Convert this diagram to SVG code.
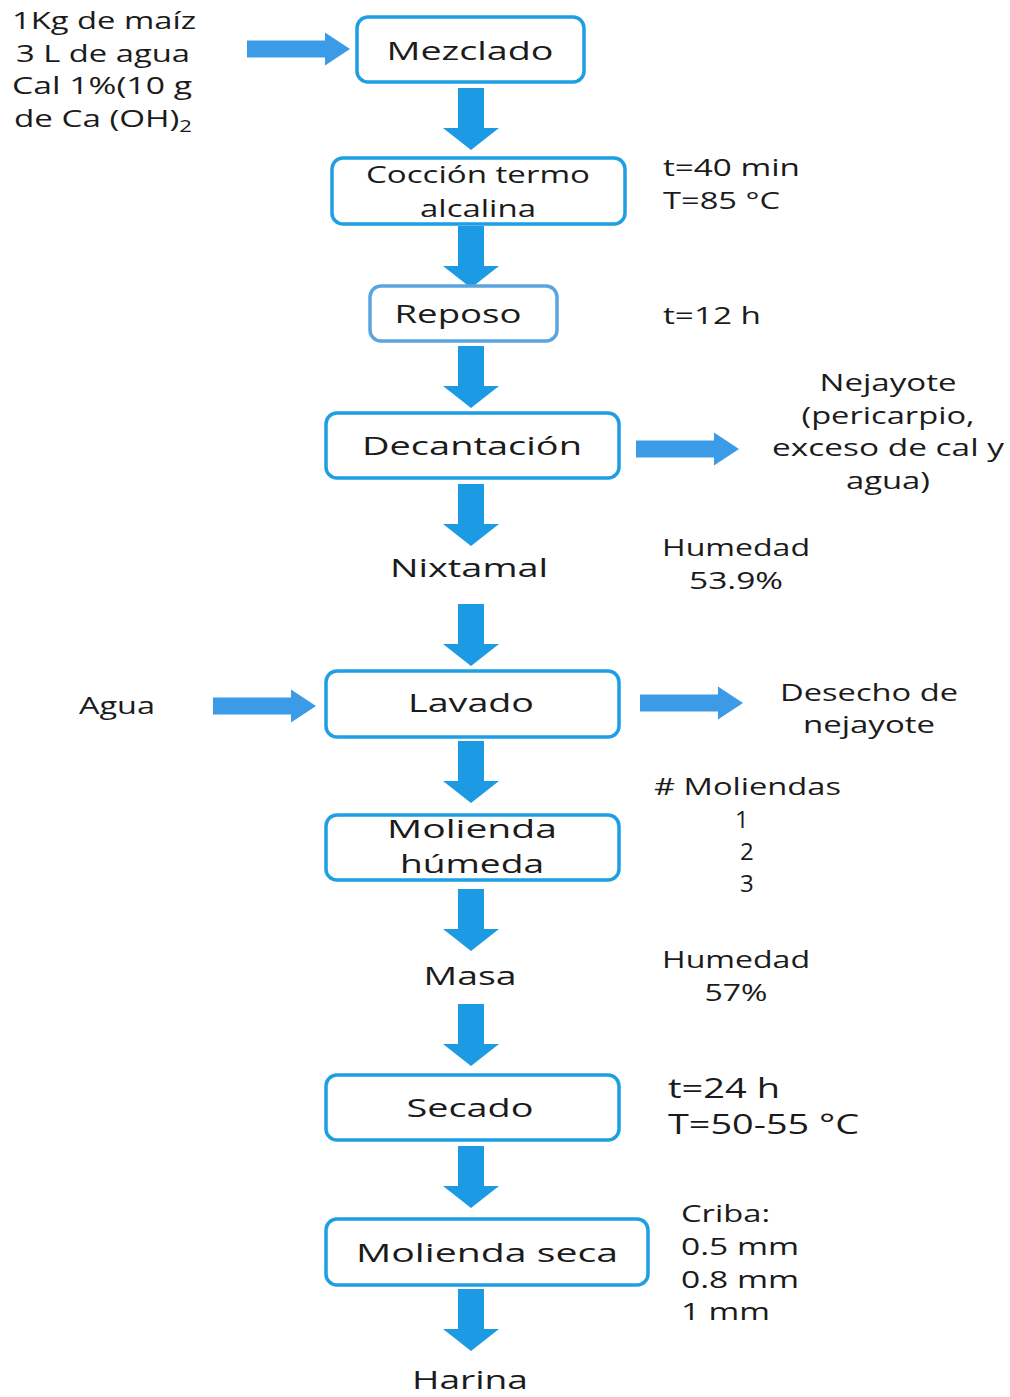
<svg xmlns="http://www.w3.org/2000/svg" width="1010" height="1397" viewBox="0 0 1010 1397">
<style>
text{font-family:"Open Sans","DejaVu Sans",sans-serif;fill:#1b1b1b;font-size:24px}
.b{font-size:26px}
.c{text-anchor:middle}
.box{fill:#fff;stroke:#1E9FE3;stroke-width:3.5}
.arr{fill:#1C9BE4}
.harr{fill:#3C9BE6}
</style>
<defs>
<path id="down" d="M-13,0 H13 V40 H28 L0,62 L-28,40 H-13 Z"/>
<path id="right" d="M0,-8.5 H78 V-16.5 L103,0 L78,16.5 V8.5 H0 Z"/>
</defs>
<rect width="1010" height="1397" fill="#fff"/>
<g id="connectors">
<use href="#down" class="arr" x="471" y="88"/>
<use href="#down" class="arr" x="471" y="226"/>
<use href="#down" class="arr" x="471" y="346"/>
<use href="#down" class="arr" x="471" y="484"/>
<use href="#down" class="arr" x="471" y="604"/>
<use href="#down" class="arr" x="471" y="741"/>
<use href="#down" class="arr" x="471" y="889"/>
<use href="#down" class="arr" x="471" y="1004"/>
<use href="#down" class="arr" x="471" y="1146"/>
<use href="#down" class="arr" x="471" y="1289"/>
<use href="#right" class="harr" x="247" y="49"/>
<use href="#right" class="harr" x="636" y="449"/>
<use href="#right" class="harr" x="213" y="706"/>
<use href="#right" class="harr" x="640" y="703"/>
</g>
<g id="inputs">
<text class="c" x="104" y="29" textLength="184" lengthAdjust="spacingAndGlyphs">1Kg de maíz</text>
<text class="c" x="103" y="62" textLength="174" lengthAdjust="spacingAndGlyphs">3 L de agua</text>
<text class="c" x="102" y="94" textLength="180" lengthAdjust="spacingAndGlyphs">Cal 1%(10 g</text>
<text x="14" y="127" textLength="178" lengthAdjust="spacingAndGlyphs">de Ca (OH)<tspan font-size="16" dy="5">2</tspan></text>
</g>
<g id="mezclado">
<rect class="box" x="357" y="17" width="227" height="65" rx="11"/>
<text class="c b" x="470" y="60" textLength="167" lengthAdjust="spacingAndGlyphs">Mezclado</text>
</g>
<g id="coccion">
<rect class="box" x="332" y="158" width="293" height="66" rx="11"/>
<text class="c" x="478" y="183" textLength="224" lengthAdjust="spacingAndGlyphs">Cocción termo</text>
<text class="c" x="478" y="217" textLength="116" lengthAdjust="spacingAndGlyphs">alcalina</text>
<text x="663" y="176" textLength="137" lengthAdjust="spacingAndGlyphs">t=40 min</text>
<text x="663" y="209" textLength="117" lengthAdjust="spacingAndGlyphs">T=85 °C</text>
</g>
<g id="reposo">
<rect class="box" x="370" y="286" width="187" height="55" rx="11" style="stroke:#5AA5E0"/>
<text class="c b" x="458" y="323" textLength="127" lengthAdjust="spacingAndGlyphs">Reposo</text>
<text x="663" y="324" textLength="98" lengthAdjust="spacingAndGlyphs">t=12 h</text>
</g>
<g id="decantacion">
<rect class="box" x="326" y="413" width="293" height="65" rx="11"/>
<text class="c b" x="472" y="455" textLength="220" lengthAdjust="spacingAndGlyphs">Decantación</text>
<text class="c" x="888" y="391" textLength="137" lengthAdjust="spacingAndGlyphs">Nejayote</text>
<text class="c" x="888" y="424" textLength="173" lengthAdjust="spacingAndGlyphs">(pericarpio,</text>
<text class="c" x="888" y="456" textLength="232" lengthAdjust="spacingAndGlyphs">exceso de cal y</text>
<text class="c" x="888" y="489" textLength="84" lengthAdjust="spacingAndGlyphs">agua)</text>
</g>
<g id="nixtamal">
<text class="c b" x="469" y="577" textLength="158" lengthAdjust="spacingAndGlyphs">Nixtamal</text>
<text class="c" x="736" y="556" textLength="148" lengthAdjust="spacingAndGlyphs">Humedad</text>
<text class="c" x="736" y="589" textLength="94" lengthAdjust="spacingAndGlyphs">53.9%</text>
</g>
<g id="lavado">
<rect class="box" x="326" y="671" width="293" height="66" rx="11"/>
<text class="c b" x="471" y="712" textLength="126" lengthAdjust="spacingAndGlyphs">Lavado</text>
<text class="c" x="117" y="714" textLength="76" lengthAdjust="spacingAndGlyphs">Agua</text>
<text class="c" x="869" y="701" textLength="178" lengthAdjust="spacingAndGlyphs">Desecho de</text>
<text class="c" x="869" y="733" textLength="132" lengthAdjust="spacingAndGlyphs">nejayote</text>
</g>
<g id="molienda-humeda">
<rect class="box" x="326" y="815" width="293" height="65" rx="11"/>
<text class="c b" x="472" y="838" textLength="170" lengthAdjust="spacingAndGlyphs">Molienda</text>
<text class="c b" x="472" y="873" textLength="144" lengthAdjust="spacingAndGlyphs">húmeda</text>
<text x="654" y="795" textLength="187" lengthAdjust="spacingAndGlyphs"># Moliendas</text>
<text x="735" y="828">1</text>
<text x="740" y="860">2</text>
<text x="740" y="892">3</text>
</g>
<g id="masa">
<text class="c b" x="470" y="985" textLength="93" lengthAdjust="spacingAndGlyphs">Masa</text>
<text class="c" x="736" y="968" textLength="148" lengthAdjust="spacingAndGlyphs">Humedad</text>
<text class="c" x="736" y="1001" textLength="63" lengthAdjust="spacingAndGlyphs">57%</text>
</g>
<g id="secado">
<rect class="box" x="326" y="1075" width="293" height="65" rx="11"/>
<text class="c b" x="470" y="1117" textLength="127" lengthAdjust="spacingAndGlyphs">Secado</text>
<text x="668" y="1098" style="font-size:28px" textLength="112" lengthAdjust="spacingAndGlyphs">t=24 h</text>
<text x="668" y="1134" style="font-size:28px" textLength="191" lengthAdjust="spacingAndGlyphs">T=50-55 °C</text>
</g>
<g id="molienda-seca">
<rect class="box" x="326" y="1219" width="322" height="66" rx="11"/>
<text class="c b" x="487" y="1262" textLength="262" lengthAdjust="spacingAndGlyphs">Molienda  seca</text>
<text x="681" y="1222" textLength="89" lengthAdjust="spacingAndGlyphs">Criba:</text>
<text x="681" y="1255" textLength="118" lengthAdjust="spacingAndGlyphs">0.5 mm</text>
<text x="681" y="1288" textLength="118" lengthAdjust="spacingAndGlyphs">0.8 mm</text>
<text x="681" y="1320" textLength="89" lengthAdjust="spacingAndGlyphs">1 mm</text>
</g>
<g id="harina">
<text class="c b" x="470" y="1389" textLength="116" lengthAdjust="spacingAndGlyphs">Harina</text>
</g>
</svg>
